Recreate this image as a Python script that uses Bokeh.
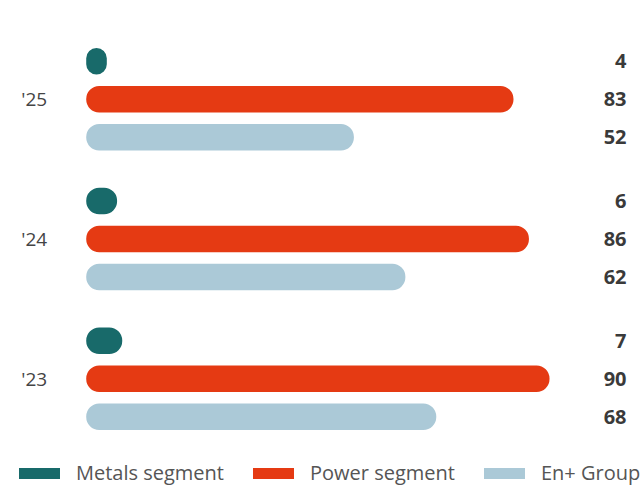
from bokeh.plotting import figure
from bokeh.models import ColumnDataSource, Range1d, Legend, LegendItem
from bokeh.transform import dodge
from bokeh.embed import file_html
from bokeh.resources import INLINE

# ---- data ----
years = ["'25", "'24", "'23"]
metals = [4, 6, 7]
power = [83, 86, 90]
enplus = [52, 62, 68]
series_names = ["Metals segment", "Power segment", "En+ Group"]
series_cols = ["metals", "power", "enplus"]
colors = ["#186a6a", "#e53a13", "#abc9d7"]

FONT = "Open Sans"
X_START = -16.65
X_END = 107.67
OFFSET = 0.2718
BAR_H = 0.1896

idx = list(range(len(years)))
src = ColumnDataSource(dict(
    y=idx, year=years, zero=[0] * len(years),
    metals=metals, power=power, enplus=enplus,
    metals_lbl=[str(v) for v in metals],
    power_lbl=[str(v) for v in power],
    enplus_lbl=[str(v) for v in enplus],
))

p = figure(width=640, height=489, output_backend="svg", toolbar_location=None,
           x_range=Range1d(X_START, X_END), y_range=Range1d(2.792, -0.706),
           x_axis_location=None, y_axis_location=None)
p.min_border = 0
p.outline_line_color = None
p.grid.visible = False

items = []
for k, (col, name, color) in enumerate(zip(series_cols, series_names, colors)):
    off = (k - 1) * OFFSET
    p.hbar(y=dodge("y", off), left=0, right=col, height=BAR_H, source=src,
           fill_color=color, line_color=None, border_radius=13)
    p.text(x=X_END, y=dodge("y", off), text=col + "_lbl", source=src,
           x_offset=-14, text_align="right", text_baseline="middle",
           text_font={"value": FONT}, text_font_style="bold",
           text_font_size="20px", text_color="#3a3a3a")
    r = p.line(x=[float("nan")], y=[float("nan")], line_width=11,
               line_cap="round", line_color=color)
    items.append(LegendItem(label=name, renderers=[r]))

# year (category) labels
p.text(x="zero", y="y", text="year", source=src, x_offset=-39,
       text_align="right", text_baseline="middle",
       text_font={"value": FONT}, text_font_size="19px", text_color="#444444")

legend = Legend(items=items, orientation="horizontal", location=(19, 3),
                glyph_width=41, glyph_height=20, label_height=20, label_standoff=16,
                spacing=29, padding=0, margin=0, border_line_color=None,
                background_fill_alpha=0,
                label_text_font=FONT, label_text_font_size="20px",
                label_text_color="#555555")
p.add_layout(legend, "center")

open("out.html", "w").write(file_html(p, INLINE))
